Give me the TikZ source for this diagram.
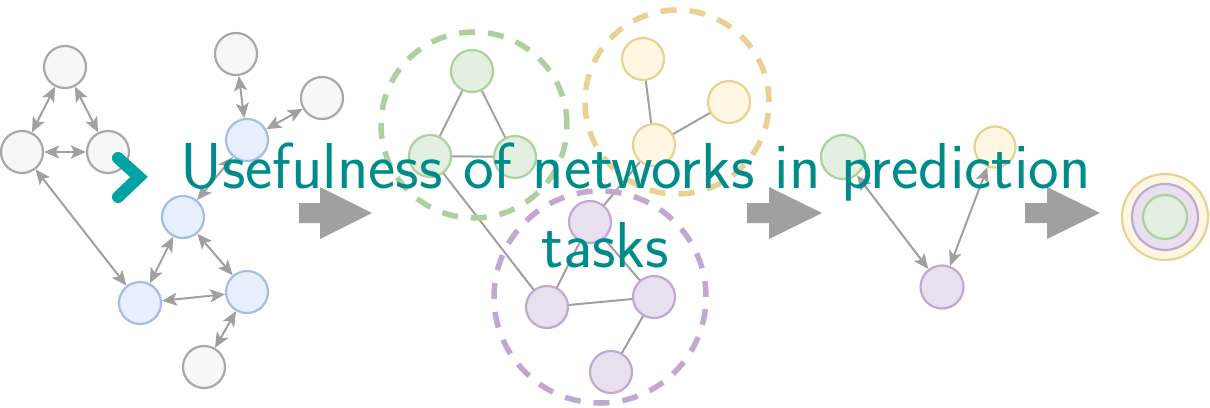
\documentclass[tikz,border=0pt]{standalone}
\usetikzlibrary{arrows.meta}
\pgfdeclarelayer{links}
\pgfsetlayers{links,main}

\definecolor{edgegray}{HTML}{A0A0A0}
\definecolor{grayfill}{HTML}{F7F7F7}
\definecolor{graydraw}{HTML}{A8A8A8}
\definecolor{bluefill}{HTML}{E7EFFC}
\definecolor{bluedraw}{HTML}{A6BDE0}
\definecolor{greenfill}{HTML}{E3EFE1}
\definecolor{greendraw}{HTML}{ADD09F}
\definecolor{yellowfill}{HTML}{FFF7E1}
\definecolor{yellowdraw}{HTML}{E8D192}
\definecolor{purplefill}{HTML}{E8E0EE}
\definecolor{purpledraw}{HTML}{C2A8D1}
\definecolor{titleteal}{HTML}{008B8B}
\definecolor{chevteal}{HTML}{00A3A3}

\tikzset{
  vertex/.style={circle, line width=2.2pt, minimum size=42pt, inner sep=0pt},
  gvert/.style={vertex, fill=grayfill, draw=graydraw},
  bvert/.style={vertex, fill=bluefill, draw=bluedraw},
  grvert/.style={vertex, fill=greenfill, draw=greendraw},
  yvert/.style={vertex, fill=yellowfill, draw=yellowdraw},
  pvert/.style={vertex, fill=purplefill, draw=purpledraw},
  linkarrows/.style={draw=edgegray, line width=2pt,
    arrows={Stealth[length=15pt, width=13pt, inset=3.5pt]-Stealth[length=15pt, width=13pt, inset=3.5pt]}},
  plain/.style={draw=edgegray, line width=2pt},
  ring/.style={circle, line width=5.5pt, dash pattern=on 16pt off 13pt, inner sep=0pt},
  blockarrow/.style={fill=edgegray},
  chevron/.style={draw=chevteal, line width=12pt, line cap=round, line join=miter},
  title/.style={text=titleteal, font=\fontsize{65}{78}\selectfont\sffamily, inner sep=0pt}
}

\begin{document}
\begin{tikzpicture}[x=1pt, y=-1pt]
\useasboundingbox (0,0) rectangle (1210,407);

% ---- directed network on the left ----
\node[gvert] (a) at (65,67) {};
\node[gvert] (b) at (22,152) {};
\node[gvert] (c) at (108,152) {};
\node[gvert] (d) at (236,54) {};
\node[gvert] (e) at (322,98) {};
\node[bvert] (f) at (247,140) {};
\node[bvert] (g) at (183,217) {};
\node[bvert] (h) at (140,303) {};
\node[bvert] (i) at (247,292) {};
\node[gvert] (j) at (204,367) {};
\foreach \u/\v in {a/b, a/c, b/c, b/h, d/f, e/f, f/g, g/h, g/i, h/i, i/j}
  \draw[linkarrows] (\u) -- (\v);

% ---- step arrows ----
\fill[blockarrow] (299,203) -- (320,203) -- (320,187) -- (372,213) -- (320,239) -- (320,223) -- (299,223) -- cycle;
\fill[blockarrow] (747,203) -- (769,203) -- (769,187) -- (822,213) -- (769,239) -- (769,223) -- (747,223) -- cycle;
\fill[blockarrow] (1025,203) -- (1047,203) -- (1047,187) -- (1100,213) -- (1047,239) -- (1047,223) -- (1025,223) -- cycle;

% ---- communities ----
\node[ring, draw=greendraw, minimum size=186pt] (cg) at (474,125) {};
\node[ring, draw=yellowdraw, minimum size=184pt] (cy) at (677,102) {};
\node[ring, draw=purpledraw, minimum size=212pt] (cp) at (600,297) {};

\node[grvert] (g1) at (472,71) {};
\node[grvert] (g2) at (430,156) {};
\node[grvert] (g3) at (515,157) {};
\node[yvert] (y1) at (643,59) {};
\node[yvert] (y2) at (729,102) {};
\node[yvert] (y3) at (654,145) {};
\node[pvert] (p1) at (590,222) {};
\node[pvert] (p2) at (547,307) {};
\node[pvert] (p3) at (654,297) {};
\node[pvert] (p4) at (611,372) {};
\begin{pgfonlayer}{links}
\foreach \u/\v in {g1/g2, g1/g3, g2/g3, y1/y3, y2/y3, p1/p2, p1/p3, p2/p3, p3/p4, y3/p1, g2/p2}
  \draw[plain] (\u.center) -- (\v.center);
\end{pgfonlayer}

% ---- community network ----
\node[grvert, minimum size=44pt] (cgreen) at (843,157) {};
\node[yvert, minimum size=41pt] (cyellow) at (995,147) {};
\node[pvert, minimum size=43pt] (cpurple) at (942,287) {};
\draw[linkarrows] (cgreen) -- (cpurple);
\draw[linkarrows] (cyellow) -- (cpurple);

% ---- nested communities ----
\node[yvert, minimum size=86pt] (ny) at (1165,217) {};
\node[pvert, minimum size=66pt] (np) at (1165,217) {};
\node[grvert, minimum size=44pt] (ng) at (1165,217) {};

% ---- heading ----
\draw[chevron] (118,158) -- (139,177) -- (118,197);
\node[title, anchor=base west] (t1) at (180,188) {Usefulness of networks in prediction};
\node[title, anchor=base] (t2) at (605,267) {tasks};
\end{tikzpicture}
\end{document}
